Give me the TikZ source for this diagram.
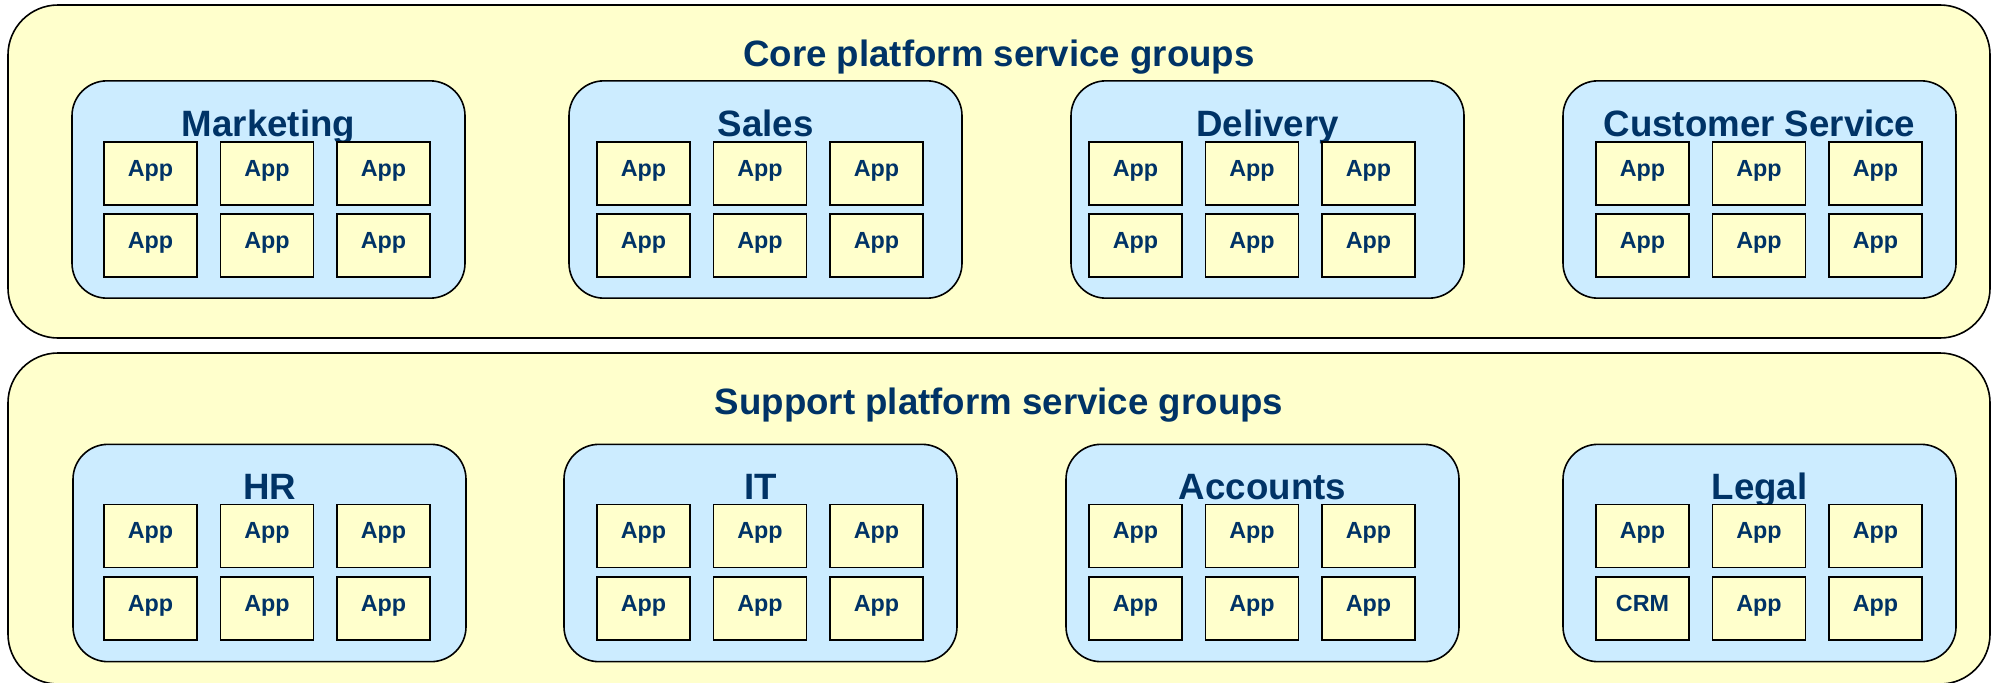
\documentclass[tikz,border=0pt]{standalone}
\usepackage{fontspec}
\setmainfont{Liberation Sans}
\usetikzlibrary{positioning}
\definecolor{paleyellow}{HTML}{FFFFCC}
\definecolor{paleblue}{HTML}{CCECFF}
\definecolor{navy}{HTML}{003366}

\begin{document}
\begin{tikzpicture}[x=0.75pt,y=-0.75pt,
  platform/.style={draw,fill=paleyellow,line width=1.2pt,rounded corners=37.5pt,minimum width=1486.5pt,inner sep=0pt},
  ptitle/.style={text=navy,font=\fontsize{27.5}{32}\selectfont\bfseries,inner sep=0pt},
  group/.style={draw,fill=paleblue,line width=1.2pt,rounded corners=26.25pt,minimum width=294.75pt,minimum height=163pt,inner sep=0pt},
  gtitle/.style={text=navy,font=\fontsize{27.5}{32}\selectfont\bfseries,inner sep=0pt},
  app/.style={draw,fill=paleyellow,line width=1.2pt,minimum width=69.75pt,minimum height=47.25pt,inner sep=0pt,
    text=navy,font=\fontsize{17.5}{20}\selectfont\bfseries,text height=14pt,text depth=10.25pt}]

\useasboundingbox (0,0) rectangle (2001,682);

\node[platform,minimum height=249.75pt]	(core)	at (999,171.5)	{};
\node[platform,minimum height=248.25pt]	(supp)	at (999,518.5)	{};

\node[ptitle,below=46.5pt of core.north,anchor=base]	(core-t)	{Core platform service groups};
\node[ptitle,below=46.5pt of supp.north,anchor=base]	(supp-t)	{Support platform service groups};

%core groups
\node[group]	(mkt)	at (268.5,189.5)	{};
\node[group]	(sales)	at (765.5,189.5)	{};
\node[group]	(deliv)	at (1267.5,189.5)	{};
\node[group]	(cserv)	at (1759.5,189.5)	{};

\node[gtitle,below=42pt of mkt.north,anchor=base]	(mkt-t)	{Marketing};
\node[gtitle,below=42pt of sales.north,anchor=base]	(sales-t)	{Sales};
\node[gtitle,below=42pt of deliv.north,anchor=base]	(deliv-t)	{Delivery};
\node[gtitle,below=42pt of cserv.north,anchor=base]	(cserv-t)	{Customer Service};

%support groups
\node[group]	(hr)	at (269.5,553)	{};
\node[group]	(it)	at (760.5,553)	{};
\node[group]	(acct)	at (1262.5,553)	{};
\node[group]	(legal)	at (1759.5,553)	{};

\node[gtitle,below=42pt of hr.north,anchor=base]	(hr-t)	{HR};
\node[gtitle,below=42pt of it.north,anchor=base]	(it-t)	{IT};
\node[gtitle,below=42pt of acct.north,anchor=base]	(acct-t)	{Accounts};
\node[gtitle,below=42pt of legal.north,anchor=base]	(legal-t)	{Legal};

%apps
\foreach \g/\x in {mkt/150.5,sales/643.5,deliv/1135.5,cserv/1642.5}
  \foreach \r/\y in {1/173.5,2/245.5}
    \foreach \c in {1,2,3}
      \node[app] (\g-\r\c) at ({\x+116.5*(\c-1)},\y) {App};

\foreach \g/\x in {hr/150.5,it/643.5,acct/1135.5}
  \foreach \r/\y in {1/536,2/608.5}
    \foreach \c in {1,2,3}
      \node[app] (\g-\r\c) at ({\x+116.5*(\c-1)},\y) {App};

\foreach \r/\c/\t in {1/1/App,1/2/App,1/3/App,2/1/CRM,2/2/App,2/3/App}
  \node[app] (legal-\r\c) at ({1642.5+116.5*(\c-1)},{536+72.5*(\r-1)}) {\t};

\end{tikzpicture}
\end{document}
